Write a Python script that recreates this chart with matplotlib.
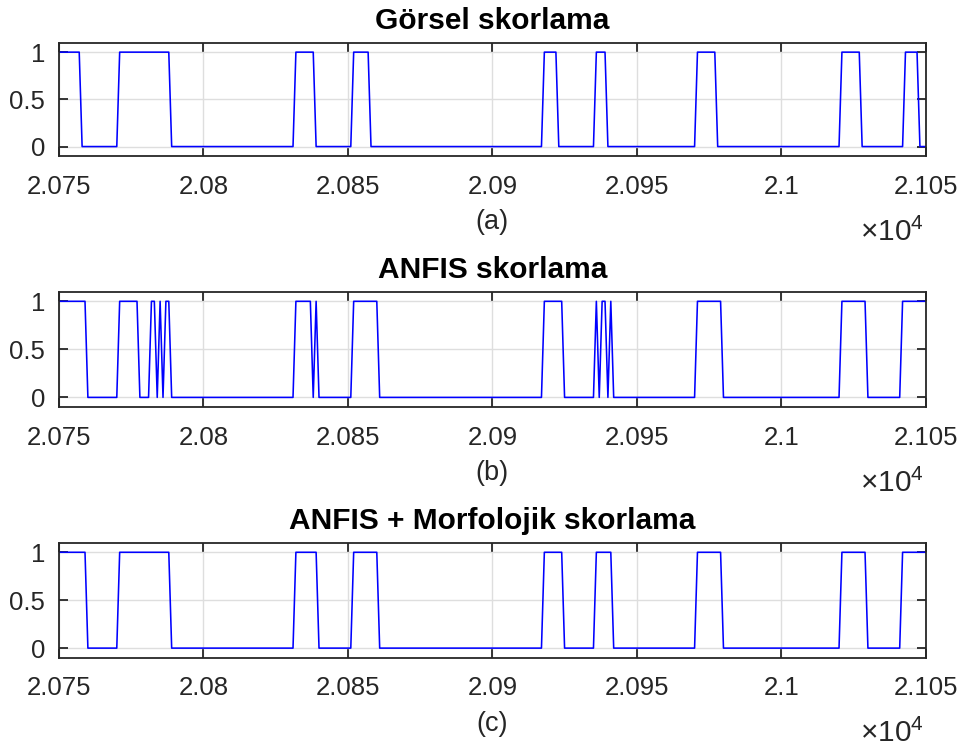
import numpy as np
import matplotlib
matplotlib.use('Agg')
import matplotlib.pyplot as plt

# ---------------- data ----------------
epoch_start = 20750
epoch_end = 21050

# epochs (inclusive ranges) where the score equals 1; elsewhere 0
gorsel_ones = [(20750, 20757), (20771, 20788), (20832, 20838), (20852, 20857),
               (20918, 20922), (20936, 20939), (20971, 20977), (21021, 21027),
               (21043, 21047)]
anfis_ones = [(20750, 20759), (20771, 20777), (20782, 20783), (20785, 20785),
              (20787, 20788), (20832, 20837), (20839, 20839), (20852, 20860),
              (20918, 20924), (20936, 20936), (20938, 20939), (20941, 20941),
              (20971, 20979), (21021, 21029), (21042, 21050)]
morf_ones = [(20750, 20759), (20771, 20788), (20832, 20839), (20852, 20860),
             (20918, 20924), (20936, 20941), (20971, 20979), (21021, 21029),
             (21042, 21050)]

titles = ['Görsel skorlama', 'ANFIS skorlama', 'ANFIS + Morfolojik skorlama']
panel_labels = ['(a)', '(b)', '(c)']
xtick_values = [20750, 20800, 20850, 20900, 20950, 21000, 21050]
xtick_labels = ['2.075', '2.08', '2.085', '2.09', '2.095', '2.1', '2.105']
ytick_values = [0, 0.5, 1]
ytick_labels = ['0', '0.5', '1']

# ---------------- style ----------------
plt.rcParams['font.family'] = ['Liberation Sans', 'DejaVu Sans']
plt.rcParams['mathtext.fontset'] = 'custom'
plt.rcParams['mathtext.rm'] = 'Liberation Sans'
plt.rcParams['mathtext.it'] = 'Liberation Sans:italic'
plt.rcParams['mathtext.bf'] = 'Liberation Sans:bold'

dark = '#262626'

fig = plt.figure(figsize=(9.6, 7.49), dpi=100)

W, H = 960.0, 749.0
left_px, right_px = 59.0, 925.7
panels_px = [(42.7, 156.0), (291.7, 407.0), (542.7, 657.7)]

series = [gorsel_ones, anfis_ones, morf_ones]

x = np.arange(epoch_start, epoch_end + 1)

for i, (top, bot) in enumerate(panels_px):
    ax = fig.add_axes([left_px / W, (H - bot) / H, (right_px - left_px) / W, (bot - top) / H])
    y = np.zeros_like(x, dtype=float)
    for a, b in series[i]:
        y[(x >= a) & (x <= b)] = 1
    ax.plot(x, y, color='#0000ff', lw=1.15, zorder=3)
    ax.set_xlim(epoch_start, epoch_end)
    ax.set_ylim(-0.1, 1.1)
    ax.set_xticks(xtick_values)
    ax.set_xticklabels(xtick_labels)
    ax.set_yticks(ytick_values)
    ax.set_yticklabels(ytick_labels)
    ax.grid(True, color='#dedede', lw=1.0, zorder=0)
    ax.set_axisbelow(True)
    for s in ax.spines.values():
        s.set_color(dark)
        s.set_linewidth(1.3)
        s.set_zorder(4)
    ax.tick_params(direction='in', length=6.5, width=1.3, color=dark,
                   labelcolor=dark, labelsize=18.5, top=True, right=True)
    ax.tick_params(axis='x', pad=13.5)
    ax.tick_params(axis='y', pad=10)
    ax.set_title(titles[i], fontsize=21.5, fontweight='bold', color='black', pad=10)
    ax.annotate(panel_labels[i], xy=(0.5, 0), xycoords='axes fraction',
                xytext=(0, -47.5), textcoords='offset points',
                ha='center', va='center', fontsize=19.5, color=dark)
    ax.annotate(r'$\times10^{4}$', xy=(1.0, 0), xycoords='axes fraction',
                xytext=(-1, -61), textcoords='offset points',
                ha='right', va='baseline', fontsize=21.5, color=dark)

fig.savefig('out.png', dpi=100, facecolor='white')
